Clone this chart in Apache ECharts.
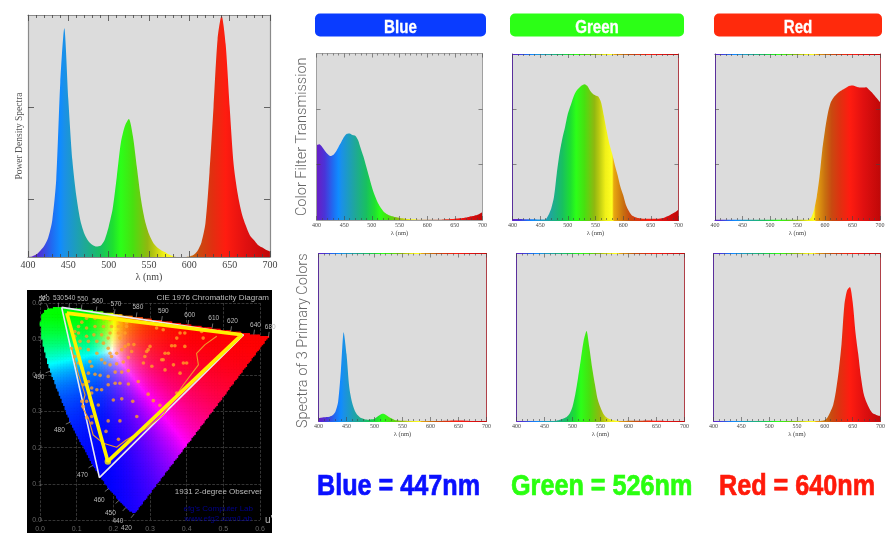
<!DOCTYPE html>
<html><head><meta charset="utf-8">
<style>html,body{margin:0;padding:0;background:#fff}#c{width:888px;height:533px}</style>
<script src="https://cdn.jsdelivr.net/npm/echarts@6/dist/echarts.min.js"></script>
</head><body><div id="c"></div>
<script>
// Wavelength axis of every spectrum (nm, 5 nm steps)
const wavelengths=[400,405,410,415,420,425,430,435,440,445,450,455,460,465,470,475,480,485,490,495,500,505,510,515,520,525,530,535,540,545,550,555,560,565,570,575,580,585,590,595,600,605,610,615,620,625,630,635,640,645,650,655,660,665,670,675,680,685,690,695,700];
// Values are percent of the panel height
const powerSpectrum=[0,0.2,1,2.5,4.5,8,15,32,72,94.5,65,40,25,15,9.5,6.5,5,4.3,4.6,7,12.5,20,33,47,54,57,50,37,24,15,9.5,6,4,2.8,2,1,0.3,0,0,0,0.2,0.8,2.5,6,14,35,62,90,99.8,88,62,38,26,18,13,9,7,5,4,3,2.3];
const filterBlue=[45,45.5,44,41.6,39.6,38.4,39,41,44,47,50,51.8,52,51,50.6,48,43,38,32,26,20,15,11,8,5.6,4,3,2.4,2,1.6,1.2,1,0.8,0.6,0.5,0.4,0.3,0.2,0.1,0.1,0.1,0.1,0.1,0.1,0.2,0.2,0.3,0.4,0.5,0.6,0.8,0.9,1,1.2,1.5,1.8,2.2,2.6,3,3.8,4.8];
const filterGreen=[0.6,0.6,0.6,0.6,0.5,0.5,0.4,0.4,0.4,0.3,0.3,0.3,0.5,3,7,14,28,40,49,56,64,69,74,77.5,79.5,81,81.8,80.8,78,76,75,74.4,71,63,54,46,40,33,27,20,15,9,5.5,3,2,1.4,1,0.8,0.7,0.7,0.7,0.7,0.7,0.8,1,1.5,2.2,3,4,5,6.4];
const filterRed=[0.1,0.1,0.1,0.1,0.1,0.1,0.1,0.1,0.1,0.1,0.1,0.1,0.1,0.1,0.1,0.1,0.1,0.1,0.1,0.1,0.1,0.1,0.1,0.1,0.1,0.1,0.1,0.1,0.1,0.1,0.1,0.1,0.1,0.1,0.2,1.5,6,14,26,42,54,64,70.5,73.5,75.5,77,78,79,80,80.8,81,80.6,80,79.8,79.8,80,78.5,77,75,73,71];
const primaryBlue=[1.8,2,2.2,2.4,2.6,3.4,5.4,11.4,30,53,40,20,11,6,3.4,2,1.4,0.9,0.8,1,1.4,2.6,3.8,4.4,3.8,2.6,1.6,0.8,0.4,0.2,0.1,0.1,0,0,0,0,0,0,0,0,0,0,0,0,0,0.1,0.1,0.2,0.3,0.3,0.3,0.3,0.2,0.1,0,0,0,0,0,0,0];
const primaryGreen=[0,0,0,0,0,0,0,0,0,0,0,0,0,0,0.2,0.5,1,1.7,2.6,4.5,8.5,16,26,37,48,53.8,44,32,22,13,8,4.4,2.4,1.3,0.7,0.3,0.1,0,0,0,0.1,0.1,0.1,0.2,0.2,0.2,0.3,0.3,0.3,0.2,0.2,0.1,0.1,0,0,0,0,0,0,0,0];
const primaryRed=[0,0,0,0,0,0,0,0,0,0,0,0,0,0,0,0,0,0,0,0,0,0,0,0,0,0,0,0,0,0,0,0,0,0,0,0,0,0,0,0.1,0.6,2.2,5.5,9.5,18,30,46,69,78,80,71,53,40,26,16,11,7.5,5,4,3.3,3];
// Tick labels / captions
const wavelengthTicks=[400,450,500,550,600,650,700];
const columns=['Blue','Green','Red'];
const captions=['Blue = 447nm','Green = 526nm','Red = 640nm'];
// CIE 1976 diagram: spectral locus
const locusNm=[420,440,450,460,470,480,490,495,500,505,510,515,520,525,530,540,550,560,570,580,590,600,610,620,640,680];
const locusU=[.2568,.2347,.2161,.1877,.1441,.0828,.0282,.0119,.0035,.0014,.0046,.0123,.0231,.0360,.0501,.0792,.1127,.1531,.2026,.2623,.3315,.4035,.4692,.5203,.5830,.6230];
const locusV=[.0166,.0350,.0549,.0871,.1510,.2708,.4117,.4699,.5131,.5433,.5638,.5770,.5837,.5862,.5868,.5856,.5821,.5766,.5694,.5604,.5501,.5393,.5296,.5219,.5125,.5065];
const unlabelledNm=[495,500,505,510,515,525];
const whiteGamutU=[.059,.555,.162,.059], whiteGamutV=[.588,.512,.117,.588];
const yellowGamutU=[.073,.550,.185,.073], yellowGamutV=[.572,.512,.162,.572];
const traceU=[.482,.45,.427,.432,.391,.336,.291,.236,.209,.173,.145,.132,.114,.123,.105,.086];
const traceV=[.508,.485,.461,.429,.374,.291,.254,.222,.201,.212,.235,.282,.314,.346,.402,.475];
const dotU=[.127,.15,.173,.191,.218,.236,.114,.105,.095,.105,.127,.15,.173,.195,.214,.236,.095,.127,.147,.168,.191,.214,.232,.109,.132,.155,.173,.186,.218,.086,.109,.132,.155,.186,.191,.195,.209,.223,.232,.241,.168,.177,.191,.209,.227,.241,.25,.256,.132,.15,.164,.186,.205,.223,.241,.095,.105,.114,.136,.141,.132,.141,.155,.168,.118,.186,.205,.218,.241,.268,.141,.136,.127,.114,.118,.141,.159,.2,.223,.253,.295,.309,.327,.127,.141,.141,.186,.218,.264,.18,.214,.291,.295,.286,.282,.305,.3,.318,.336,.373,.382,.395,.441,.445,.359,.368,.341,.35,.395,.332,.336,.391,.4,.364,.341,.382,.373];
const dotV=[.558,.558,.556,.554,.549,.545,.547,.535,.521,.517,.531,.535,.535,.535,.535,.535,.508,.508,.512,.512,.517,.517,.517,.494,.494,.494,.489,.503,.503,.475,.475,.471,.461,.475,.461,.452,.461,.471,.48,.485,.443,.434,.429,.432,.437,.449,.466,.485,.406,.403,.4,.397,.409,.409,.413,.452,.434,.42,.438,.425,.383,.365,.36,.36,.374,.374,.378,.378,.376,.383,.351,.337,.328,.328,.314,.318,.318,.332,.335,.328,.348,.33,.317,.283,.286,.268,.274,.274,.286,.245,.223,.466,.471,.452,.434,.425,.48,.531,.526,.503,.517,.517,.521,.503,.482,.482,.461,.461,.48,.443,.443,.434,.434,.429,.415,.406,.351];

const serif='"Liberation Serif","DejaVu Serif",serif';
const sans='"Liberation Sans",Arial,sans-serif';

// colour ramp of the spectra along the wavelength axis
const ramp=[[400,'#6a1cc4'],[415,'#4a34d8'],[430,'#1f6cf2'],[440,'#0f8cff'],[445,'#1a90e8'],[470,'#1fa898'],[490,'#18c060'],[505,'#1ee030'],[515,'#2cff18'],[530,'#48e010'],[548,'#90b810'],[556,'#b8c810'],[568,'#f0f018'],[580,'#ffff20'],[583,'#e8a810'],[600,'#c87010'],[612,'#c84a10'],[628,'#e03010'],[645,'#ff1c10'],[670,'#e01010'],[700,'#c00808']];
const fillGrad=()=>new echarts.graphic.LinearGradient(0,0,1,0,ramp.map(s=>({offset:(s[0]-400)/300,color:s[1]})));
const frameGrad=fillGrad;

const grids=[],xAxes=[],yAxes=[],series=[];
function panel(r,values,o){
  const g=grids.length;
  grids.push({left:r[0],top:r[1],width:r[2],height:r[3],show:true,backgroundColor:'#dcdcdc',borderWidth:0});
  const lab={show:true,fontFamily:serif,fontSize:o.font,color:'#444',margin:o.margin,showMinLabel:true,showMaxLabel:true,formatter:v=>wavelengthTicks.includes(v)?String(v):''};
  const hLine=o.rainbow?frameGrad():o.frame;
  const base={type:'value',gridIndex:g,min:400,max:700,interval:50,z:5,splitLine:{show:false},
    axisTick:{show:true,inside:true,length:o.major,lineStyle:{color:'#444',width:o.tw}},
    minorTick:{show:true,splitNumber:5,length:o.minor,lineStyle:{color:'#444',width:o.tw}},
    axisLine:{show:true,onZero:false,lineStyle:{color:hLine,width:o.lw}}};
  xAxes.push(Object.assign({},base,{position:'bottom',axisLabel:lab,name:'λ (nm)',nameLocation:'middle',nameGap:o.nameGap,nameTextStyle:{fontFamily:serif,fontSize:o.nameFont,color:'#444'}}));
  xAxes.push(Object.assign({},base,{position:'top',axisLabel:{show:false}}));
  const yBase={type:'value',gridIndex:g,min:0,max:100,z:5,splitLine:{show:false},axisLabel:{show:false},
    axisTick:{show:!!o.yTicks,inside:true,length:o.major,customValues:o.yTicks||[],lineStyle:{color:'#444',width:o.tw}}};
  yAxes.push(Object.assign({},yBase,{position:'left',axisLine:{show:true,onZero:false,lineStyle:{color:o.rainbow?'#5a2f9c':o.frame,width:o.lw}},
    name:o.yName||'',nameLocation:'middle',nameRotate:90,nameGap:o.yGap||8,nameTextStyle:o.yStyle}));
  yAxes.push(Object.assign({},yBase,{position:'right',axisLine:{show:true,onZero:false,lineStyle:{color:o.rainbow?'#b04048':o.frame,width:o.lw}}}));
  series.push({type:'line',xAxisIndex:xAxes.length-2,yAxisIndex:yAxes.length-2,smooth:0.25,symbol:'none',silent:true,
    lineStyle:{width:0},areaStyle:{color:fillGrad(),opacity:1},
    data:wavelengths.map((w,i)=>[w,values[i]])});
}
const small={font:6,margin:2,major:4,minor:2,tw:0.6,lw:1,nameGap:10,nameFont:6.5};
const lightName={fontFamily:'Roboto,'+sans,fontWeight:300,fontSize:14.5,color:'#666'};
const t3=[33.3,66.6];
panel([28,15,242,242],powerSpectrum,{font:10,margin:3,major:6,minor:3,tw:0.8,lw:1.2,frame:'#8a8a8a',nameGap:15,nameFont:10,yTicks:[24,62],
  yName:'Power Density Spectra',yGap:4,yStyle:{fontFamily:serif,fontSize:9.5,color:'#555'}});
panel([316.5,53.5,166,166.5],filterBlue,Object.assign({},small,{frame:'#a0a0a0',yTicks:t3,yName:'Color Filter Transmission',yGap:7,yStyle:lightName}));
panel([512.5,54,166,166],filterGreen,Object.assign({},small,{rainbow:true,yTicks:t3}));
panel([715,54,165,166],filterRed,Object.assign({},small,{rainbow:true,yTicks:t3}));
panel([318.5,253.5,168,167.5],primaryBlue,Object.assign({},small,{rainbow:true,yName:'Spectra of 3 Primary Colors',yGap:8,yStyle:Object.assign({},lightName,{padding:[0,7,0,0]})}));
panel([516.5,253.5,168,167.5],primaryGreen,Object.assign({},small,{rainbow:true}));
panel([713.5,253.5,168,167.5],primaryRed,Object.assign({},small,{rainbow:true}));

// --- CIE diagram ---
const cieGrid=grids.length;
grids.push({left:40,top:303,width:220,height:217,show:false});
const cieSplit={show:true,lineStyle:{color:'#4a4a4a',type:'dashed',width:0.7}};
xAxes.push({type:'value',gridIndex:cieGrid,min:0,max:0.6,interval:0.1,position:'bottom',axisLine:{show:false},axisTick:{show:false},splitLine:cieSplit,
  axisLabel:{fontFamily:sans,fontSize:7,color:'#666',margin:6,formatter:v=>v.toFixed(1)}});
yAxes.push({type:'value',gridIndex:cieGrid,min:0,max:0.6,interval:0.1,position:'left',axisLine:{show:false},axisTick:{show:false},splitLine:cieSplit,
  axisLabel:{fontFamily:sans,fontSize:7,color:'#666',margin:3,align:'center',formatter:v=>v.toFixed(1)}});
const xi=xAxes.length-1, yi=yAxes.length-1;

function inLocus(u,v){let c=false;const n=locusU.length;
  for(let i=0,j=n-1;i<n;j=i++){
    if((locusV[i]>v)!==(locusV[j]>v)&&u<(locusU[j]-locusU[i])*(v-locusV[i])/(locusV[j]-locusV[i])+locusU[i])c=!c;}
  return c;}
function chroma(u,v){
  const d=6*u-16*v+12,x=9*u/d,y=4*v/d,z=1-x-y;
  let r=3.2406*x-1.5372*y-0.4986*z,g=-0.9689*x+1.8758*y+0.0415*z,b=0.0557*x-0.2040*y+1.0570*z;
  r=Math.max(0,r);g=Math.max(0,g);b=Math.max(0,b);
  const k=Math.max(r,g,b);
  const f=c=>Math.round(255*Math.pow(c/k,1.3));
  return 'rgb('+f(r)+','+f(g)+','+f(b)+')';}
const step=0.004,cells=[];
for(let i=0;i<=160;i++)for(let j=0;j<=150;j++){const u=i*step,v=j*step;if(inLocus(u+step/2,v+step/2))cells.push([u,v]);}
series.push({type:'custom',xAxisIndex:xi,yAxisIndex:yi,silent:true,clip:false,progressive:0,animation:false,data:cells,z:2,
  renderItem:(p,api)=>{const u=api.value(0),v=api.value(1),a=api.coord([u,v+step]),s=api.size([step,step]);
    return {type:'rect',shape:{x:a[0]-0.3,y:a[1]-0.3,width:s[0]+0.6,height:s[1]+0.6},style:{fill:chroma(u+step/2,v+step/2)}};}});
// wavelength ticks round the locus
const labelled=locusNm.map((n,i)=>i).filter(i=>!unlabelledNm.includes(locusNm[i]));
series.push({type:'custom',xAxisIndex:xi,yAxisIndex:yi,silent:true,clip:false,z:3,data:labelled.map(i=>[i]),
  renderItem:(p,api)=>{const i=api.value(0),n=locusU.length,P=api.coord([locusU[i],locusV[i]]);
    const a=api.coord([locusU[Math.max(0,i-1)],locusV[Math.max(0,i-1)]]),b=api.coord([locusU[Math.min(n-1,i+1)],locusV[Math.min(n-1,i+1)]]);
    let nx=b[1]-a[1],ny=a[0]-b[0];const L=Math.hypot(nx,ny)||1;nx/=L;ny/=L;
    const c=api.coord([0.3,0.3]);if(nx*(P[0]-c[0])+ny*(P[1]-c[1])<0){nx=-nx;ny=-ny;}
    return {type:'group',children:[
      {type:'line',shape:{x1:P[0],y1:P[1],x2:P[0]+nx*5,y2:P[1]+ny*5},style:{stroke:'#999',lineWidth:0.7}},
      {type:'text',x:P[0]+nx*12,y:P[1]+ny*(ny>0?19:10),style:{text:String(locusNm[i]),fill:'#bbb',font:'6.5px '+sans,align:'center',verticalAlign:'middle'}}]};}});
const lineSeries=(U,V,color,width,z)=>({type:'line',xAxisIndex:xi,yAxisIndex:yi,silent:true,symbol:'none',z,lineStyle:{color,width},data:U.map((u,i)=>[u,V[i]])});
series.push(lineSeries(whiteGamutU,whiteGamutV,'#e8e8f4',1.6,4));
series.push(lineSeries(traceU,traceV,'#f09a28',1.1,5));
series.push({type:'scatter',xAxisIndex:xi,yAxisIndex:yi,silent:true,z:5,symbolSize:3.6,itemStyle:{color:'#ffa024'},data:dotU.map((u,i)=>[u,dotV[i]])});
series.push(lineSeries(yellowGamutU,yellowGamutV,'#fff000',3.6,6));
series.push({type:'scatter',xAxisIndex:xi,yAxisIndex:yi,silent:true,z:6,symbolSize:6.5,itemStyle:{color:'#fff000'},data:[[yellowGamutU[2],yellowGamutV[2]]]});

// --- page furniture ---
const pillX=[[315,171],[510,174],[714,168]], pillCol=['#0a3cff','#2cff16','#ff2a0c'];
const capX=[317,511,719], capCol=['#0a10ff','#2aff10','#ff1a0a'];
const txt=(x,y,text,font,fill,align,sx,sw)=>({type:'text',x,y,z:20,scaleX:sx||1,style:{text,font,fill,align:align||'left',verticalAlign:'middle',stroke:sw?fill:null,lineWidth:sw||0}});
const graphic=[{type:'rect',z:-5,shape:{x:27,y:290,width:245,height:243},style:{fill:'#000'}}];
columns.forEach((c,i)=>{
  graphic.push({type:'rect',z:1,shape:{x:pillX[i][0],y:13.5,width:pillX[i][1],height:23,r:5},style:{fill:pillCol[i]}});
  graphic.push(txt(pillX[i][0]+pillX[i][1]/2,28,c,'bold 18px '+sans,'#fff','center',0.84,0.3));
  graphic.push(txt(capX[i],487,captions[i],'bold 30px '+sans,capCol[i],'left',0.84,0.7));
});
graphic.push(txt(269,298,'CIE 1976 Chromaticity Diagram','8px '+sans,'#bbb','right'));
graphic.push(txt(262,492,'1931 2-degree Observer','8px '+sans,'#bbb','right'));
graphic.push(txt(253,509,"efg's Computer Lab",'8px '+sans,'#00008c','right'));
graphic.push(txt(252,519,'www.efg2.com/Lab','8px '+sans,'#00008c','right'));
graphic.push(txt(265,520,"u'",'10px '+sans,'#bbb'));
graphic.push(txt(41,298,"v'",'9px '+sans,'#bbb'));

const chart=echarts.init(document.getElementById('c'),null,{renderer:'canvas'});
chart.setOption({animation:false,backgroundColor:'#fff',grid:grids,xAxis:xAxes,yAxis:yAxes,series,graphic:{elements:graphic},tooltip:{show:false},legend:{show:false}});
</script></body></html>
